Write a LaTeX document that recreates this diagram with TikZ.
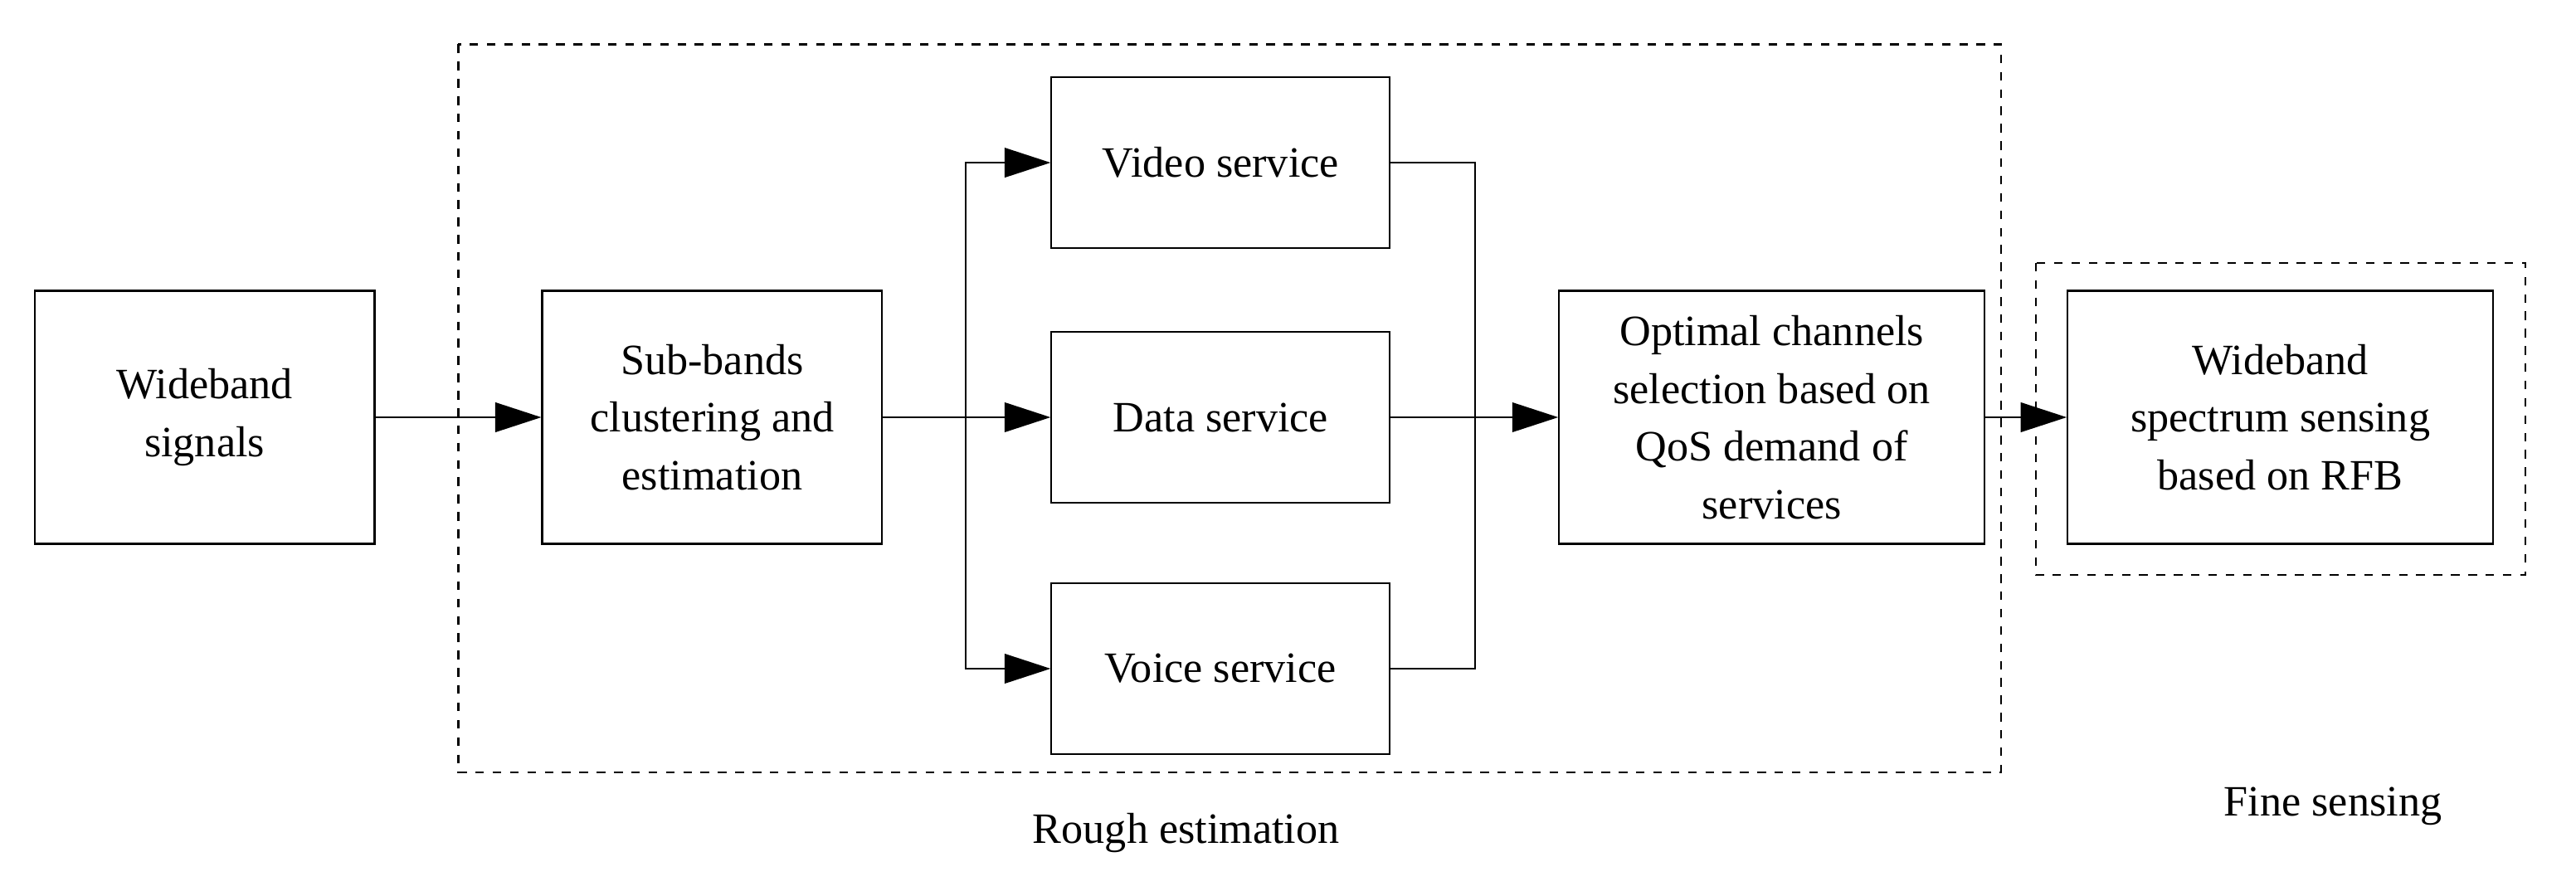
\documentclass[tikz,border=0pt]{standalone}
\usepackage{fontspec}
\setmainfont{Liberation Serif}
\usetikzlibrary{arrows.meta}
\begin{document}
\begin{tikzpicture}[line width=0.6pt,
  blk/.style={draw,rectangle,align=center,inner sep=0pt,font=\fontsize{15}{20}\selectfont},
  arr/.style={-{Triangle[length=0.56cm,width=0.36cm]}},
  grp/.style={draw,dashed}]
\useasboundingbox (0,0) rectangle (31.36,-10.84);
\node[blk,minimum width=4.14cm,minimum height=3.08cm] (wide) at (2.49,-5.08) {Wideband\\signals};
\node[blk,minimum width=4.14cm,minimum height=3.08cm] (sub) at (8.67,-5.08) {Sub-bands\\clustering and\\estimation};
\node[blk,minimum width=4.12cm,minimum height=2.08cm] (video) at (14.86,-1.98) {Video service};
\node[blk,minimum width=4.12cm,minimum height=2.08cm] (data) at (14.86,-5.08) {Data service};
\node[blk,minimum width=4.12cm,minimum height=2.08cm] (voice) at (14.86,-8.14) {Voice service};
\node[blk,minimum width=5.18cm,minimum height=3.08cm] (opt) at (21.57,-5.08) {Optimal channels\\selection based on\\QoS demand of\\services};
\node[blk,minimum width=5.18cm,minimum height=3.08cm] (sense) at (27.76,-5.08) {Wideband\\spectrum sensing\\based on RFB};
\draw[grp] (5.58,-0.54) rectangle (24.36,-9.40);
\draw[grp] (24.78,-3.20) rectangle (30.74,-7.00);
\node[font=\fontsize{15}{20}\selectfont] (rough) at (14.44,-10.14) {Rough estimation};
\node[font=\fontsize{15}{20}\selectfont] (fine) at (28.40,-9.82) {Fine sensing};
\coordinate (split) at (11.76,-5.08);
\coordinate (merge) at (17.96,-5.08);
\draw[arr] (wide) -- (sub);
\draw (sub) -- (split);
\draw[arr] (split) |- (video);
\draw[arr] (split) -- (data);
\draw[arr] (split) |- (voice);
\draw (video) -| (merge);
\draw (voice) -| (merge);
\draw (data) -- (merge);
\draw[arr] (merge) -- (opt);
\draw[arr] (opt) -- (sense);
\end{tikzpicture}
\end{document}
